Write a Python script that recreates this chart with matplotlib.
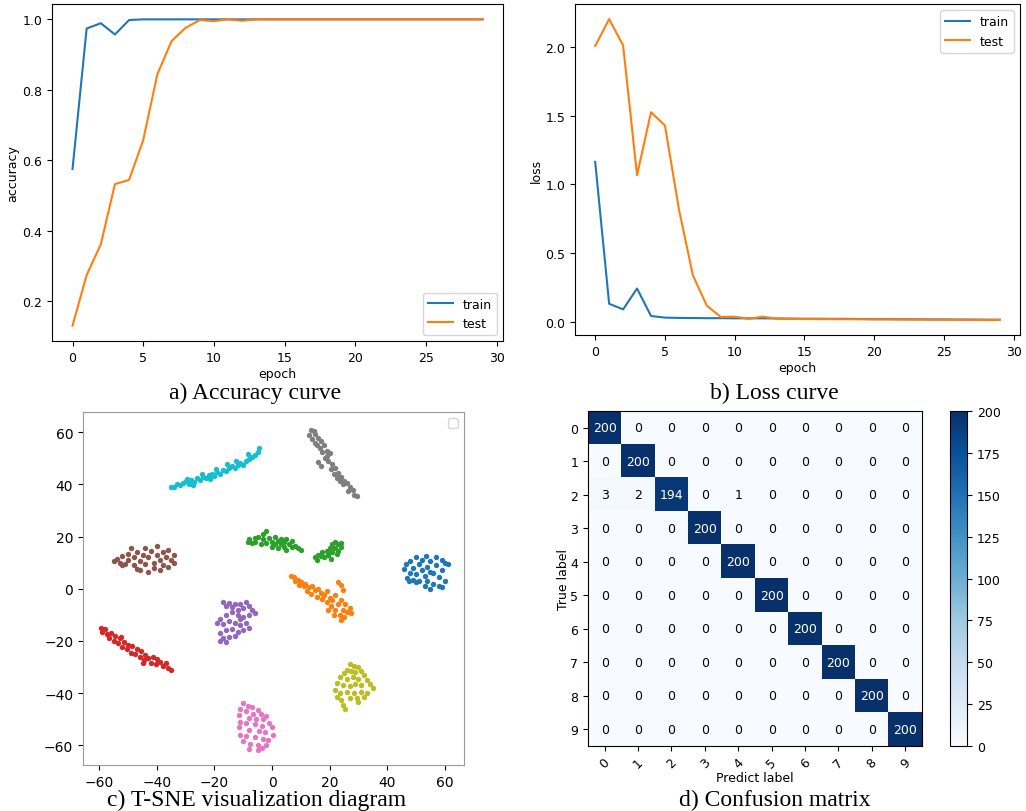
import numpy as np
import matplotlib.pyplot as plt

plt.rcParams['font.size'] = 9

epochs = np.arange(30)

# accuracy curve
acc_train = [0.575, 0.974, 0.989, 0.957, 0.998, 1.0, 1.0, 1.0, 1.0, 1.0,
             1.0, 1.0, 1.0, 1.0, 1.0, 1.0, 1.0, 1.0, 1.0, 1.0,
             1.0, 1.0, 1.0, 1.0, 1.0, 1.0, 1.0, 1.0, 1.0, 1.0]
acc_test = [0.130, 0.274, 0.361, 0.532, 0.544, 0.657, 0.844, 0.938, 0.976, 0.998,
            0.995, 1.0, 0.996, 1.0, 1.0, 1.0, 1.0, 1.0, 1.0, 1.0,
            1.0, 1.0, 1.0, 1.0, 1.0, 1.0, 1.0, 1.0, 1.0, 1.0]

# loss curve
loss_train = [1.163, 0.130, 0.089, 0.241, 0.041, 0.029, 0.027, 0.026, 0.025, 0.025,
              0.024, 0.024, 0.024, 0.023, 0.022, 0.021, 0.021, 0.020, 0.020, 0.019,
              0.018, 0.018, 0.017, 0.017, 0.016, 0.016, 0.015, 0.015, 0.014, 0.014]
loss_test = [2.007, 2.203, 2.012, 1.066, 1.525, 1.428, 0.820, 0.338, 0.116, 0.034,
             0.036, 0.020, 0.036, 0.021, 0.019, 0.019, 0.018, 0.018, 0.017, 0.017,
             0.016, 0.016, 0.015, 0.015, 0.014, 0.014, 0.013, 0.013, 0.012, 0.012]

# t-SNE clusters (class 0..9)
tsne_0 = [(46, 7.5), (46.5, 9.5), (47, 4), (47.5, 3), (48, 10.5), (48, 6), (49, 8), (49, 3.5),
          (50, 12), (50, 5.5), (51, 9.5), (51, 3), (52, 11), (52, 7), (53, 1), (53, 5),
          (53.5, 12.5), (54, 8.5), (54, 3), (55, 10.5), (55, 0), (56, 6), (56, 2), (57, 9),
          (57, 12), (58, 4.5), (58, 1), (59, 7), (59, 11), (60, 10), (60, 3), (61, 9.5),
          (59, 0.5), (55, 6.5), (50, 2.5)]
tsne_1 = [(6.5, 5), (7.5, 4.5), (8, 3), (9, 3.5), (9.5, 1.5), (10, 2.5), (11, 1), (11.5, 2),
          (12, -1), (13, 0.5), (13.5, -2), (14, 1), (15, -0.5), (15.5, -3), (16, 0), (17, -1.5),
          (17.5, -4), (18, -2.5), (19, -5), (19, -1), (20, -3.5), (20.5, -6.5), (21, -4.5),
          (22, -8), (22, -2.5), (23, -6), (23.5, -10), (24, -4.5), (24.5, -8), (25, -11),
          (25.5, -6), (26, -9), (27, -7.5), (27.5, -9.5), (23, 2.5), (24, 1.5), (24.5, -0.5),
          (19.5, -8), (21.5, -10), (24, -12)]
tsne_2 = [(-8.5, 18), (-8, 19), (-7, 17.5), (-6, 19.5), (-6, 18), (-5, 20), (-4, 17), (-3, 19),
          (-3, 21), (-2, 22), (-2, 17.5), (-1, 19.5), (0, 18), (0, 16), (1, 20), (1, 17),
          (2, 18.5), (2, 15.5), (3, 19), (3, 17), (4, 16), (4, 18), (5, 19), (5, 15), (6, 17),
          (7, 16), (7, 18.5), (8, 16.5), (9, 15.5), (10, 15),
          (15, 12), (15.5, 11), (16, 13), (17, 12.5), (17.5, 14), (18, 12), (19, 14.5),
          (19.5, 13), (20, 15.5), (21, 17), (21, 14), (22, 18), (22, 15.5), (23, 17),
          (23, 14.5), (24, 16), (24, 17.5), (22.5, 13.5), (20.5, 11.5)]
tsne_3 = [(-59.5, -15), (-59, -16.5), (-58, -15.5), (-57.5, -17.5), (-56.5, -19), (-56, -17),
          (-55, -20), (-54.5, -18), (-53.5, -21), (-53, -19), (-52, -22.5), (-51.5, -20.5),
          (-50.5, -23), (-50, -21.5), (-49, -24.5), (-48.5, -22), (-47.5, -25), (-47, -23),
          (-46, -26), (-45.5, -24), (-44.5, -27.5), (-44, -25.5), (-43, -26.5), (-42, -28.5),
          (-41.5, -26), (-40.5, -29), (-40, -27), (-39, -28), (-38, -29.5), (-37, -28.5),
          (-36, -30.5), (-35, -31), (-52.5, -18.5), (-45, -28.5)]
tsne_4 = [(-17, -5), (-16, -6.5), (-15, -5.5), (-14, -7), (-13, -6), (-12, -8), (-11, -6),
          (-10, -7.5), (-9, -5), (-8, -6.5), (-7, -8), (-6, -9.5), (-8, -10), (-10, -11),
          (-12, -10), (-14, -9), (-16, -10), (-18, -11.5), (-19, -13), (-17, -13.5),
          (-15, -12.5), (-13, -13), (-11, -14), (-9, -13), (-8, -15), (-10, -16), (-12, -16.5),
          (-14, -15.5), (-16, -16), (-18, -17), (-17, -19), (-15, -18.5), (-13, -18),
          (-16, -20.5), (-18, -20), (-11, -11.5)]
tsne_5 = [(-55, 10.5), (-54, 11.5), (-53, 10), (-52, 12.5), (-51, 9.5), (-50, 11), (-50, 13.5),
          (-49, 15.5), (-48, 12), (-48, 9), (-47, 14), (-46, 10.5), (-46, 7), (-45, 13),
          (-44, 15.5), (-44, 9.5), (-43, 12), (-43, 6.5), (-42, 14.5), (-41, 10), (-41, 8),
          (-40, 13), (-40, 16.5), (-39, 11), (-39, 7), (-38, 14), (-38, 9), (-37, 12),
          (-36, 15), (-36, 8.5), (-35, 11), (-34, 13), (-34, 10), (-47, 7.5), (-52, 9)]
tsne_6 = [(-10, -44), (-8.5, -45), (-7, -45.5), (-5, -46.5), (-11, -46), (-9, -47), (-6.5, -48),
          (-4, -48), (-11.5, -48.5), (-8, -49.5), (-5.5, -50), (-3, -50), (-2, -49), (-11, -51),
          (-9, -51.5), (-6, -52), (-3.5, -52.5), (-1, -51.5), (-11.5, -53), (-8, -54),
          (-4.5, -54.5), (0, -53), (-2.5, -55), (-11, -56), (-9, -56.5), (-6, -57), (-3, -57.5),
          (0.5, -56), (-1.5, -58), (-10, -58.5), (-7.5, -59.5), (-5, -60), (-2, -60), (-8, -61.5),
          (-5, -62), (-3.5, -61)]
tsne_7 = [(13.5, 61), (14.5, 60.5), (13, 59), (15, 59.5), (14, 57.5), (16, 58), (15, 56),
          (17, 56.5), (16.5, 54), (18, 55), (17.5, 52.5), (19, 53), (20, 52), (18.5, 50),
          (16, 48.5), (17, 47), (19.5, 49), (21, 48), (20.5, 46), (22, 46.5), (21.5, 44),
          (23, 44.5), (22.5, 42.5), (24, 43), (25, 41.5), (24.5, 40), (26, 40.5), (27, 39),
          (26.5, 37.5), (28, 38), (28.5, 36), (29.5, 35.5), (15.5, 55), (19, 51), (23.5, 41.5)]
tsne_8 = [(27, -29), (28.5, -29.5), (30, -30), (26, -31), (25, -32.5), (27.5, -31.5), (29, -32),
          (31, -31.5), (32, -33), (23.5, -34), (26, -34.5), (28, -34), (30, -34.5), (33, -35),
          (34, -36.5), (22.5, -36), (24.5, -37), (27, -37.5), (29, -36.5), (31, -37), (35, -38),
          (22, -39), (23.5, -40), (26, -39.5), (28.5, -40), (31, -39.5), (33, -40),
          (22.5, -41.5), (24, -42.5), (27, -42), (29.5, -42), (32, -41.5), (24.5, -44.5),
          (25.5, -46), (30, -43.5)]
tsne_9 = [(-35, 39.2), (-34, 39.0), (-33, 40.1), (-32, 39.6), (-31, 40.5), (-30, 41.2),
          (-29, 40.3), (-28, 41.6), (-27, 41.0), (-26, 42.3), (-25, 41.8), (-24, 43.0),
          (-23, 42.4), (-22, 43.5), (-21, 44.1), (-20, 43.2), (-19, 44.8), (-18, 44.0),
          (-17, 45.5), (-16, 45.0), (-15, 46.2), (-14, 47.0), (-13, 46.3), (-12, 47.6),
          (-11, 48.2), (-10, 47.4), (-9, 49.0), (-8, 49.6), (-7, 50.5), (-6, 51.2), (-5, 52.5),
          (-4.5, 53.8), (-19.5, 46.0), (-24.5, 44.2), (-29.5, 42.0), (-12.5, 49.0),
          (-8.5, 51.5), (-15.5, 47.8), (-27.5, 39.8), (-21.5, 42.0)]
tsne_clusters = [tsne_0, tsne_1, tsne_2, tsne_3, tsne_4, tsne_5, tsne_6, tsne_7, tsne_8, tsne_9]

# confusion matrix
class_labels = [str(i) for i in range(10)]
conf_mat = np.array([
    [200, 0, 0, 0, 0, 0, 0, 0, 0, 0],
    [0, 200, 0, 0, 0, 0, 0, 0, 0, 0],
    [3, 2, 194, 0, 1, 0, 0, 0, 0, 0],
    [0, 0, 0, 200, 0, 0, 0, 0, 0, 0],
    [0, 0, 0, 0, 200, 0, 0, 0, 0, 0],
    [0, 0, 0, 0, 0, 200, 0, 0, 0, 0],
    [0, 0, 0, 0, 0, 0, 200, 0, 0, 0],
    [0, 0, 0, 0, 0, 0, 0, 200, 0, 0],
    [0, 0, 0, 0, 0, 0, 0, 0, 200, 0],
    [0, 0, 0, 0, 0, 0, 0, 0, 0, 200],
])

fig = plt.figure(figsize=(10.26, 8.12), dpi=100)
cap_font = dict(family='Liberation Serif', fontsize=17, ha='center', va='center')

# a) accuracy
ax1 = fig.add_axes([0.0507, 0.5788, 0.4396, 0.415])
ax1.plot(epochs, acc_train, label='train')
ax1.plot(epochs, acc_test, label='test')
ax1.set_xlabel('epoch', labelpad=2)
ax1.set_ylabel('accuracy', labelpad=2)
ax1.legend(loc='lower right')
fig.text(0.249, 1 - 393 / 812, 'a) Accuracy curve', **cap_font)

# b) loss
ax2 = fig.add_axes([0.5604, 0.5862, 0.4337, 0.4076])
ax2.plot(epochs, loss_train, label='train')
ax2.plot(epochs, loss_test, label='test')
ax2.set_xlabel('epoch', labelpad=2)
ax2.set_ylabel('loss', labelpad=2)
ax2.legend(loc='upper right')
fig.text(0.755, 1 - 393 / 812, 'b) Loss curve', **cap_font)

# c) t-SNE
ax3 = fig.add_axes([0.0809, 0.0567, 0.3713, 0.4347])
colors = plt.get_cmap('tab10').colors
for i, pts in enumerate(tsne_clusters):
    pts = np.array(pts)
    ax3.scatter(pts[:, 0], pts[:, 1], s=15, color=colors[i], linewidths=0)
ax3.set_xlim(-65.7, 66.7)
ax3.set_ylim(-67.6, 67.8)
ax3.set_xticks([-60, -40, -20, 0, 20, 40, 60])
ax3.set_yticks([-60, -40, -20, 0, 20, 40, 60])
ax3.tick_params(labelsize=10)
for sp in ax3.spines.values():
    sp.set_color('0.6')
ax3.legend(handles=[], loc='upper right')
fig.text(0.25, 1 - 800 / 812, 'c) T-SNE visualization diagram', **cap_font)

# d) confusion matrix
ax4 = fig.add_axes([0.5731, 0.0800, 0.3255, 0.4126])
im = ax4.imshow(conf_mat, cmap='Blues', vmin=0, vmax=200, aspect='auto')
for r in range(conf_mat.shape[0]):
    for c in range(conf_mat.shape[1]):
        v = conf_mat[r, c]
        ax4.text(c, r, str(v), ha='center', va='center', fontsize=9,
                 color='white' if v > 100 else 'black')
ax4.set_xticks(range(10))
ax4.set_yticks(range(10))
ax4.set_xticklabels(class_labels, rotation=45, fontsize=9)
ax4.set_yticklabels(class_labels, fontsize=9)
ax4.set_xlabel('Predict label', labelpad=0)
ax4.set_ylabel('True label', labelpad=0)
cax = fig.add_axes([0.9259, 0.0800, 0.0166, 0.4126])
cb = fig.colorbar(im, cax=cax, ticks=[0, 25, 50, 75, 100, 125, 150, 175, 200])
cb.ax.tick_params(labelsize=9)
fig.text(0.755, 1 - 800 / 812, 'd) Confusion matrix', **cap_font)

plt.savefig('out.png', dpi=100)
